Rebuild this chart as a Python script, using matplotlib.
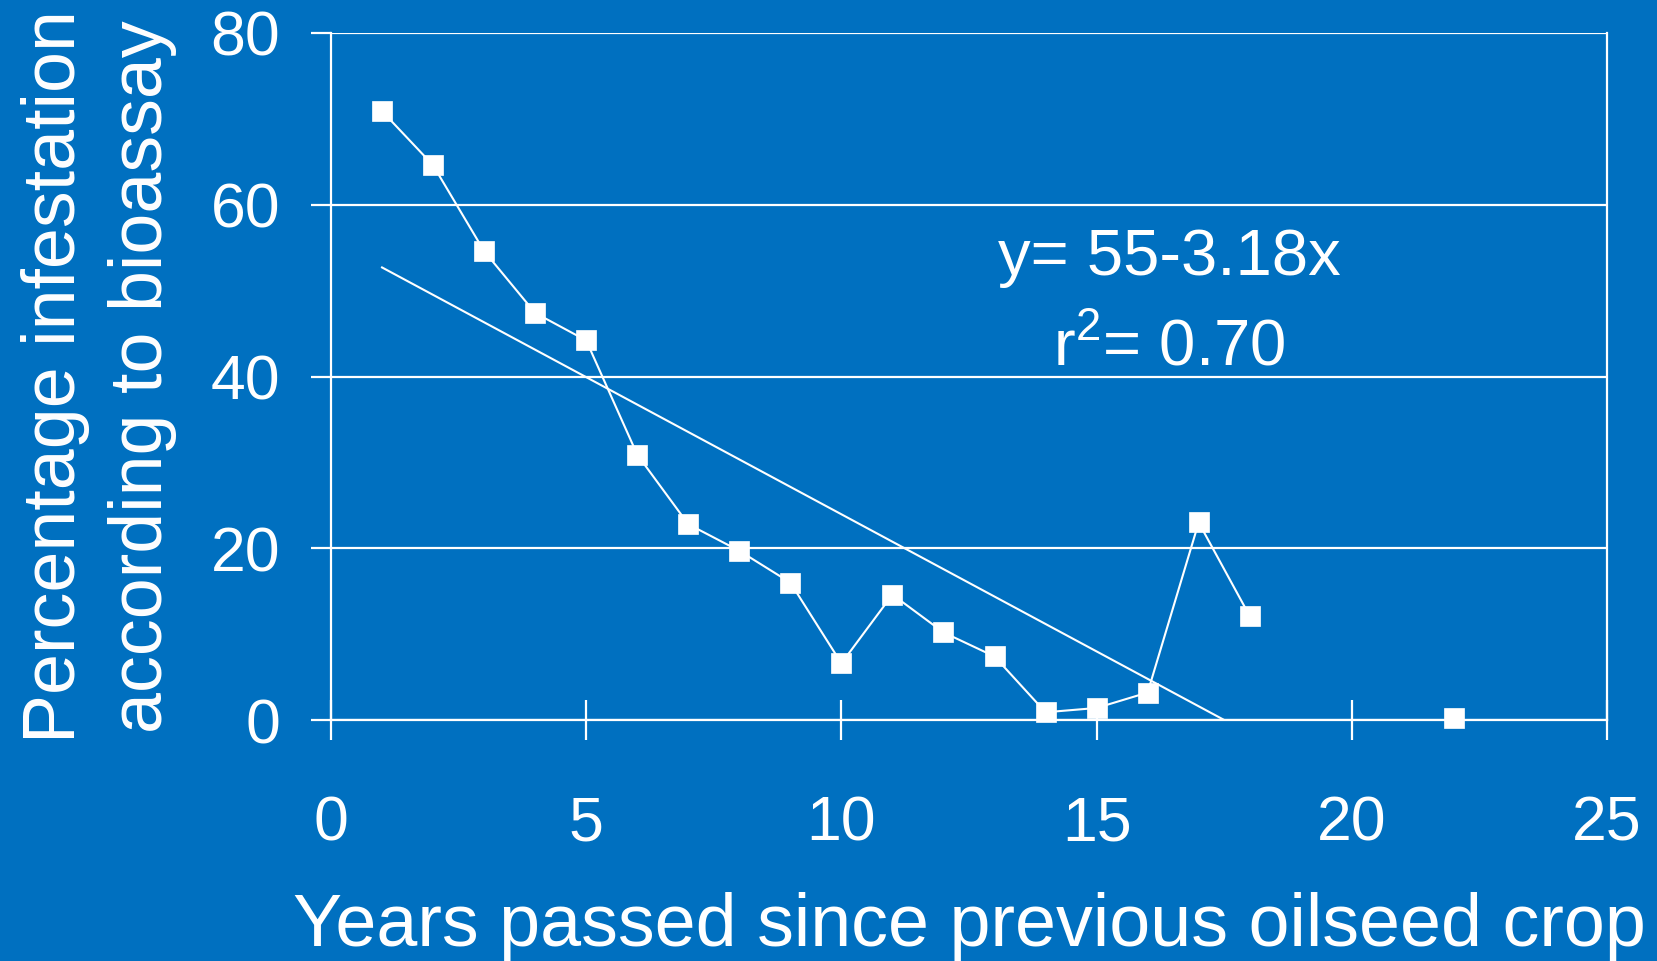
import matplotlib
matplotlib.use("Agg")
import matplotlib.pyplot as plt
import numpy as np

plt.rcParams['font.family'] = ['Liberation Sans', 'DejaVu Sans']
plt.rcParams['mathtext.fontset'] = 'custom'
plt.rcParams['mathtext.rm'] = 'Liberation Sans'

# data
years = [1, 2, 3, 4, 5, 6, 7, 8, 9, 10, 11, 12, 13, 14, 15, 16, 17, 18]
infestation = [70.9, 64.6, 54.6, 47.4, 44.2, 30.9, 22.8, 19.7, 16.0, 6.6,
               14.6, 10.2, 7.4, 0.9, 1.4, 3.2, 23.0, 12.1]
lone_year = [22]
lone_infestation = [0.2]
fit_x = [1, 17.5]
fit_y = [52.7, 0]

x_ticks = [0, 5, 10, 15, 20, 25]
y_ticks = [0, 20, 40, 60, 80]

BG = '#0070C0'
W = 'white'
LW = 1.6

fig = plt.figure(figsize=(16.58, 9.61), dpi=100, facecolor=BG)
ax = fig.add_axes([331 / 1658, 1 - 720 / 961, (1607 - 331) / 1658, (720 - 33) / 961])
ax.set_facecolor(BG)

ax.set_xlim(0, 25)
ax.set_ylim(0, 80)
ax.set_xticks(x_ticks)
ax.set_yticks(y_ticks)

# horizontal grid
ax.yaxis.grid(True, color=W, linewidth=LW)
ax.set_axisbelow(True)

for side in ['left', 'right', 'bottom']:
    ax.spines[side].set_color(W)
    ax.spines[side].set_linewidth(LW)
ax.spines['top'].set_visible(False)

ax.tick_params(axis='x', direction='inout', length=29, width=LW, color=W,
               labelcolor=W, labelsize=45, pad=39)
ax.tick_params(axis='y', direction='out', length=14.5, width=LW, color=W,
               labelcolor=W, labelsize=45, pad=22)

# data series
ax.plot(years, infestation, color=W, linewidth=1.5, marker='s', markersize=14,
        markerfacecolor=W, markeredgecolor=W, markeredgewidth=0.5, clip_on=False)
ax.plot(lone_year, lone_infestation, linestyle='none', marker='s', markersize=14,
        markerfacecolor=W, markeredgecolor=W, markeredgewidth=0.5, clip_on=False)
ax.plot(fit_x, fit_y, color=W, linewidth=1.5)

ax.text(16.42, 51.8, 'y= 55-3.18x', color=W, fontsize=47, ha='center', va='baseline')
ax.text(16.42, 41.3, r'r$^{\mathregular{2}}$= 0.70', color=W, fontsize=47,
        ha='center', va='baseline')

ax.set_xlabel('Years passed since previous oilseed crop', color=W, fontsize=53, labelpad=28)
ax.set_ylabel('Percentage infestation\naccording to bioassay', color=W, fontsize=53,
              labelpad=24, linespacing=1.33)

fig.savefig('out.png', dpi=100, facecolor=BG)
